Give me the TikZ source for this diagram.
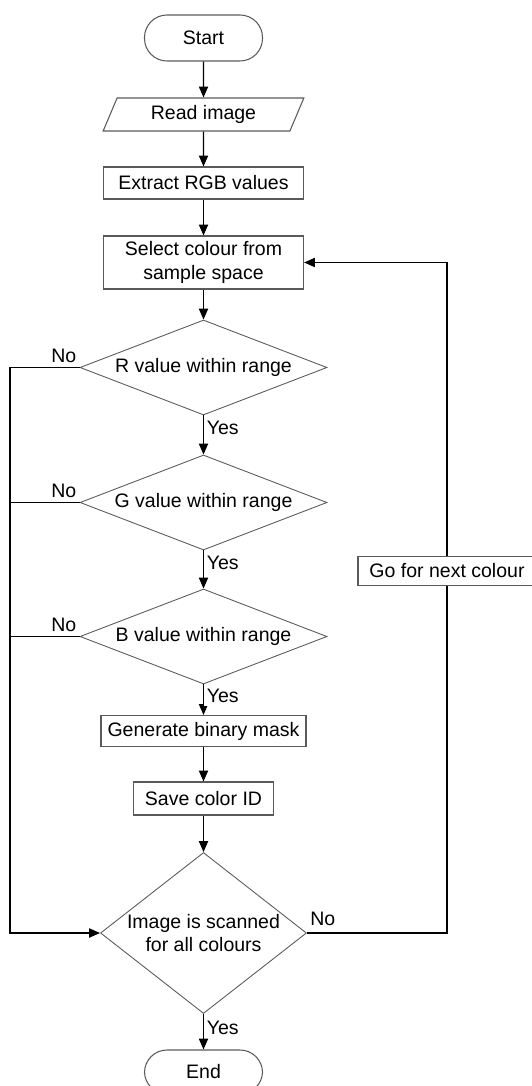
\documentclass[tikz,border=0pt]{standalone}
\usepackage{fontspec}
\setmainfont{Liberation Sans}
\usepackage{tikz}
\usetikzlibrary{positioning, arrows.meta, calc, shapes.geometric}
\definecolor{edge_grey}{RGB}{90, 90, 90}

\begin{document}
\begin{tikzpicture}[font=\fontsize{11.1}{13.4}\selectfont, >={Triangle[length=6.2pt, width=5.2pt]},
      flow/.style={->, line width=0.8pt},
      box/.style={draw=edge_grey, line width=0.6pt, align=center, inner sep=2pt, minimum width=4cm, minimum height=0.64cm},
      term/.style={draw=edge_grey, line width=0.6pt, rounded corners=0.45cm, minimum width=2.36cm, minimum height=0.92cm},
      io/.style={draw=edge_grey, line width=0.6pt, trapezium, trapezium left angle=68, trapezium right angle=112,
                 trapezium stretches=true, minimum width=4.02cm, minimum height=0.66cm, inner sep=1pt},
      dec/.style={draw=edge_grey, line width=0.5pt, diamond, aspect=2.6, align=center, inner sep=0pt, minimum width=4.94cm, minimum height=1.9cm},
      lbl/.style={inner sep=1.5pt, fill=white}]
    \useasboundingbox (0,0) rectangle (10.62,-21.72);
    \node[term] (start)  at (4.07,-0.76)  {Start};
    \node[io]   (read)   at (4.07,-2.29)  {Read image};
    \node[box]  (rgb)    at (4.07,-3.66)  {Extract RGB values};
    \node[box, minimum height=1.06cm] (select) at (4.07,-5.25) {Select colour from\\sample space};
    \node[dec]  (decR)   at (4.07,-7.35)  {R value within range};
    \node[dec]  (decG)   at (4.07,-10.05) {G value within range};
    \node[dec]  (decB)   at (4.07,-12.73) {B value within range};
    \node[box, minimum width=4.1cm, minimum height=0.62cm] (mask) at (4.07,-14.62) {Generate binary mask};
    \node[box, minimum width=2.81cm, minimum height=0.66cm] (save) at (4.07,-15.97) {Save color ID};
    \node[dec, minimum width=4.12cm, minimum height=3.22cm, aspect=1.28] (scan) at (4.07,-18.66) {Image is scanned\\for all colours};
    \node[term, minimum height=0.88cm] (end) at (4.07,-21.44) {End};
    \node[box, minimum width=3.56cm, minimum height=0.58cm] (next) at (8.94,-11.42) {Go for next colour};
    \coordinate (back) at (0.2,0 |- scan.west);

    % main column
    \draw[flow] (start) -- (read);
    \draw[flow] (read) -- (rgb);
    \draw[flow] (rgb) -- (select);
    \draw[flow] (select) -- (decR);
    \draw[flow] (decR) -- node[lbl, anchor=north west, pos=0.05]{Yes} (decG);
    \draw[flow] (decG) -- node[lbl, anchor=north west, pos=0.05]{Yes} (decB);
    \draw[flow] (decB) -- node[lbl, anchor=north west, pos=0.05]{Yes} (mask);
    \draw[flow] (mask) -- (save);
    \draw[flow] (save) -- (scan);
    \draw[flow] (scan) -- node[lbl, anchor=north west, pos=0.12]{Yes} (end);

    % no branches
    \draw[flow] (decR.west) node[lbl, anchor=south east, yshift=1pt]{No} -| (back) -- (scan.west);
    \draw[line width=0.8pt] (decG.west) node[lbl, anchor=south east, yshift=1pt]{No} -- (decG.west -| back);
    \draw[line width=0.8pt] (decB.west) node[lbl, anchor=south east, yshift=1pt]{No} -- (decB.west -| back);

    % loop back
    \draw[line width=0.8pt] (scan.east) node[lbl, anchor=south west, yshift=2pt]{No} -| (next.south);
    \draw[flow] (next.north) |- (select.east);
  \end{tikzpicture}
\end{document}
